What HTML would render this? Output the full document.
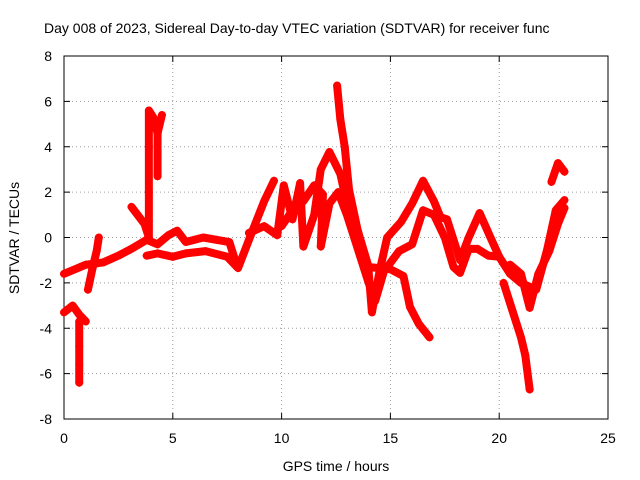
<!DOCTYPE html>
<html><head><meta charset="utf-8"><style>
html,body{margin:0;padding:0;background:#fff}
svg{display:block}
text{font-family:"Liberation Sans",sans-serif;font-size:14px;fill:#000}
</style></head><body>
<svg id="chart" width="640" height="480">
<text x="44" y="33">Day 008 of 2023, Sidereal Day-to-day VTEC variation (SDTVAR) for receiver func</text>
<g id="grid"></g>
<rect x="64" y="56" width="544" height="363" fill="none" stroke="#000"/>
<g id="ticks"></g>
<g id="series"></g>
<text x="336" y="471" text-anchor="middle">GPS time / hours</text>
<text transform="translate(19,238) rotate(-90)" text-anchor="middle">SDTVAR / TECUs</text>
</svg>
<script>
const xTicks=[0,5,10,15,20,25];
const yTicks=[-8,-6,-4,-2,0,2,4,6,8];
const sA=[[0,-1.6],[0.5,-1.4],[1,-1.2],[1.8,-1.1],[2.5,-0.8],[3.1,-0.5],[3.8,-0.1],[4.3,-0.3],[4.8,0.1],[5.2,0.3],[5.6,-0.2],[6.4,0],[7,-0.1],[7.6,-0.2],[7.96,-1.3]];
const sB=[[3.8,-0.8],[4.3,-0.7],[5,-0.85],[5.6,-0.7],[6.5,-0.6],[7.5,-0.85],[8,-1.35],[8.5,-0.1],[9.2,1.6],[9.65,2.5]];
const sC=[[0,-3.3],[0.4,-3.0],[0.7,-3.4],[1.0,-3.7]];
const sC2=[[0.7,-3.7],[0.7,-4.8],[0.7,-5.6],[0.7,-6.4]];
const sD=[[1.1,-2.3],[1.3,-1.4],[1.5,-0.6],[1.6,0]];
const sE=[[3.1,1.35],[3.7,0.6],[3.9,0],[3.9,2],[3.9,4],[3.9,5.6],[4.1,5.3],[4.3,4.6],[4.5,5.4]];
const sE2=[[4.3,4.6],[4.3,3.6],[4.3,2.7]];
const sG=[[8.5,0.2],[9.2,0.5],[9.8,0.1],[10.1,2.3],[10.5,0.8],[10.85,2.4],[11.0,-0.4],[11.5,1.0],[11.8,3.0],[12.2,3.77],[12.7,2.8],[13.0,1.5],[13.5,0.3],[14,-1.5],[14.15,-3.3],[14.5,-1.5],[14.85,0],[15.5,0.7],[16,1.5],[16.5,2.5],[17,1.6],[17.3,0.9],[17.6,0.8]];
const sH=[[10,0.5],[10.5,1.2],[11,1.6],[11.5,2.3],[11.9,1.9],[11.8,-0.4],[12.2,1.5],[12.6,2.0],[13,1],[13.5,-0.5],[14,-2],[14.3,-2.8],[14.7,-1.5],[15.4,-0.6],[16,-0.3],[16.5,1.2],[17,1.0],[17.5,0],[17.9,-1.3],[18.2,-1.56],[18.6,-0.5],[19.0,-0.5],[19.5,-0.8],[20.0,-0.85]];
const sI=[[12.55,6.7],[12.7,5.2],[12.9,4.0],[13.1,2.1],[13.5,0.3],[14.0,-1.3],[15.0,-1.4],[15.6,-1.7],[15.9,-3.06],[16.3,-3.8],[16.8,-4.4]];
const sJ=[[17.6,0.8],[18.2,-1.0],[18.6,0],[19.1,1.08],[19.6,0],[20.0,-0.85],[20.5,-1.6],[21.0,-2.0],[21.7,-2.3],[22.2,-0.55],[22.6,1.2],[23.0,1.65]];
const sK=[[20.2,-2],[20.6,-3.2],[21.0,-4.4],[21.2,-5.2],[21.4,-6.7]];
const sL=[[20.5,-1.2],[21,-1.6],[21.4,-3.1],[21.8,-1.6],[22.3,-0.6],[22.7,0.6],[23,1.3]];
const sM=[[22.4,2.45],[22.7,3.28],[23.0,2.9]];
const allSeries=[sA,sB,sC,sC2,sD,sE,sE2,sG,sH,sI,sJ,sK,sL,sM];

const NS="http://www.w3.org/2000/svg";
const X=v=>64+v*544/25;
const Y=v=>237.5-v*363/16;
const grid=document.getElementById('grid'),ticks=document.getElementById('ticks'),ser=document.getElementById('series');
function mk(t,a,p){const e=document.createElementNS(NS,t);for(const k in a)e.setAttribute(k,a[k]);p.appendChild(e);return e;}
xTicks.forEach(t=>{
  if(t>0&&t<25){const g=mk('line',{x1:X(t),x2:X(t),y1:56,y2:419,stroke:'#a0a0a0','stroke-dasharray':'1,3'},grid);
  
  }
  const l=mk('text',{x:X(t),y:443,'text-anchor':'middle'},ticks);l.textContent=t;
  
  
  mk('line',{x1:X(t),x2:X(t),y1:419,y2:413,stroke:'#000'},ticks);
  mk('line',{x1:X(t),x2:X(t),y1:56,y2:62,stroke:'#000'},ticks);
});
yTicks.forEach(t=>{
  if(t>-8&&t<8){const g=mk('line',{x1:64,x2:608,y1:Y(t),y2:Y(t),stroke:'#a0a0a0','stroke-dasharray':'1,3'},grid);
  
  }
  const l=mk('text',{x:52,y:Y(t)+5,'text-anchor':'end'},ticks);l.textContent=t;
  
  
  mk('line',{x1:64,x2:70,y1:Y(t),y2:Y(t),stroke:'#000'},ticks);
  mk('line',{x1:608,x2:602,y1:Y(t),y2:Y(t),stroke:'#000'},ticks);
});
allSeries.forEach((s,i)=>{
  const pl=mk('polyline',{points:s.map(p=>X(p[0])+','+Y(p[1])).join(' '),fill:'none',stroke:'#f00','stroke-width':8,'stroke-linejoin':'round','stroke-linecap':'round'},ser);
  
  
  s.forEach(p=>{
    const m=mk('path',{d:`M${X(p[0])-4},${Y(p[1])}h8M${X(p[0])},${Y(p[1])-4}v8`,stroke:'#f00','stroke-width':1.2},ser);
    
    
  });
});
</script>
</body></html>
